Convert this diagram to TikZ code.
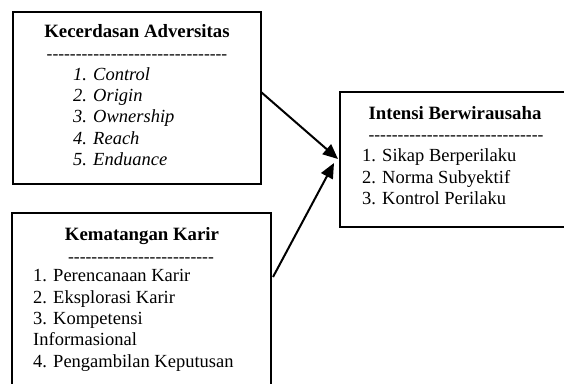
\documentclass[tikz,border=0pt]{standalone}
\usepackage{fontspec}
\setmainfont{Liberation Serif}
\usetikzlibrary{arrows.meta}
\newcommand\hyphrow[1]{\foreach \i in {1,...,#1}{-}}
\begin{document}
\begin{tikzpicture}[x=1pt,y=-1pt,
  boxline/.style={line width=2.2pt,draw=black},
  ttl/.style={font=\fontsize{18.8}{21}\selectfont\bfseries,anchor=mid,inner sep=0pt},
  dsh/.style={font=\fontsize{17.5}{21}\selectfont,anchor=mid,inner sep=0pt},
  itm/.style={font=\fontsize{18.5}{21}\selectfont,anchor=mid west,inner sep=0pt},
  conn/.style={line width=2pt,-{Triangle[length=15pt,width=13pt]}}]
\useasboundingbox (0,0) rectangle (564,383);
\clip (0,0) rectangle (564,383);
% boxes
\draw[boxline] (13,12) rectangle (261,184);
\draw[boxline] (12,213) rectangle (271,400);
\draw[boxline] (340,92) rectangle (580,227);
% box 1
\node[ttl] (t1) at (137,35) {Kecerdasan Adversitas};
\node[dsh] (d1) at (137,57) {\hyphrow{31}};
\node[itm] (a1) at (73,78) {\itshape 1. Control};
\node[itm] (a2) at (73,99) {\itshape 2. Origin};
\node[itm] (a3) at (73,120) {\itshape 3. Ownership};
\node[itm] (a4) at (73,142) {\itshape 4. Reach};
\node[itm] (a5) at (73,163) {\itshape 5. Enduance};
% box 2
\node[ttl] (t2) at (142,238) {Kematangan Karir};
\node[dsh] (d2) at (141,260) {\hyphrow{25}};
\node[itm] (b1) at (33,279) {1. Perencanaan Karir};
\node[itm] (b2) at (33,301) {2. Eksplorasi Karir};
\node[itm] (b3) at (33,322) {3. Kompetensi};
\node[itm] (b4) at (33,343) {Informasional};
\node[itm] (b5) at (33,365) {4. Pengambilan Keputusan};
% box 3
\node[ttl] (t3) at (455,117) {Intensi Berwirausaha};
\node[dsh] (d3) at (456,138) {\hyphrow{30}};
\node[itm] (c1) at (362,159) {1. Sikap Berperilaku};
\node[itm] (c2) at (362,181) {2. Norma Subyektif};
\node[itm] (c3) at (362,202) {3. Kontrol Perilaku};
% connectors
\coordinate (s1) at (261,92);
\coordinate (e1) at (338,159);
\coordinate (s2) at (273,277);
\coordinate (e2) at (334,163);
\draw[conn] (s1) -- (e1);
\draw[conn] (s2) -- (e2);
\end{tikzpicture}
\end{document}
